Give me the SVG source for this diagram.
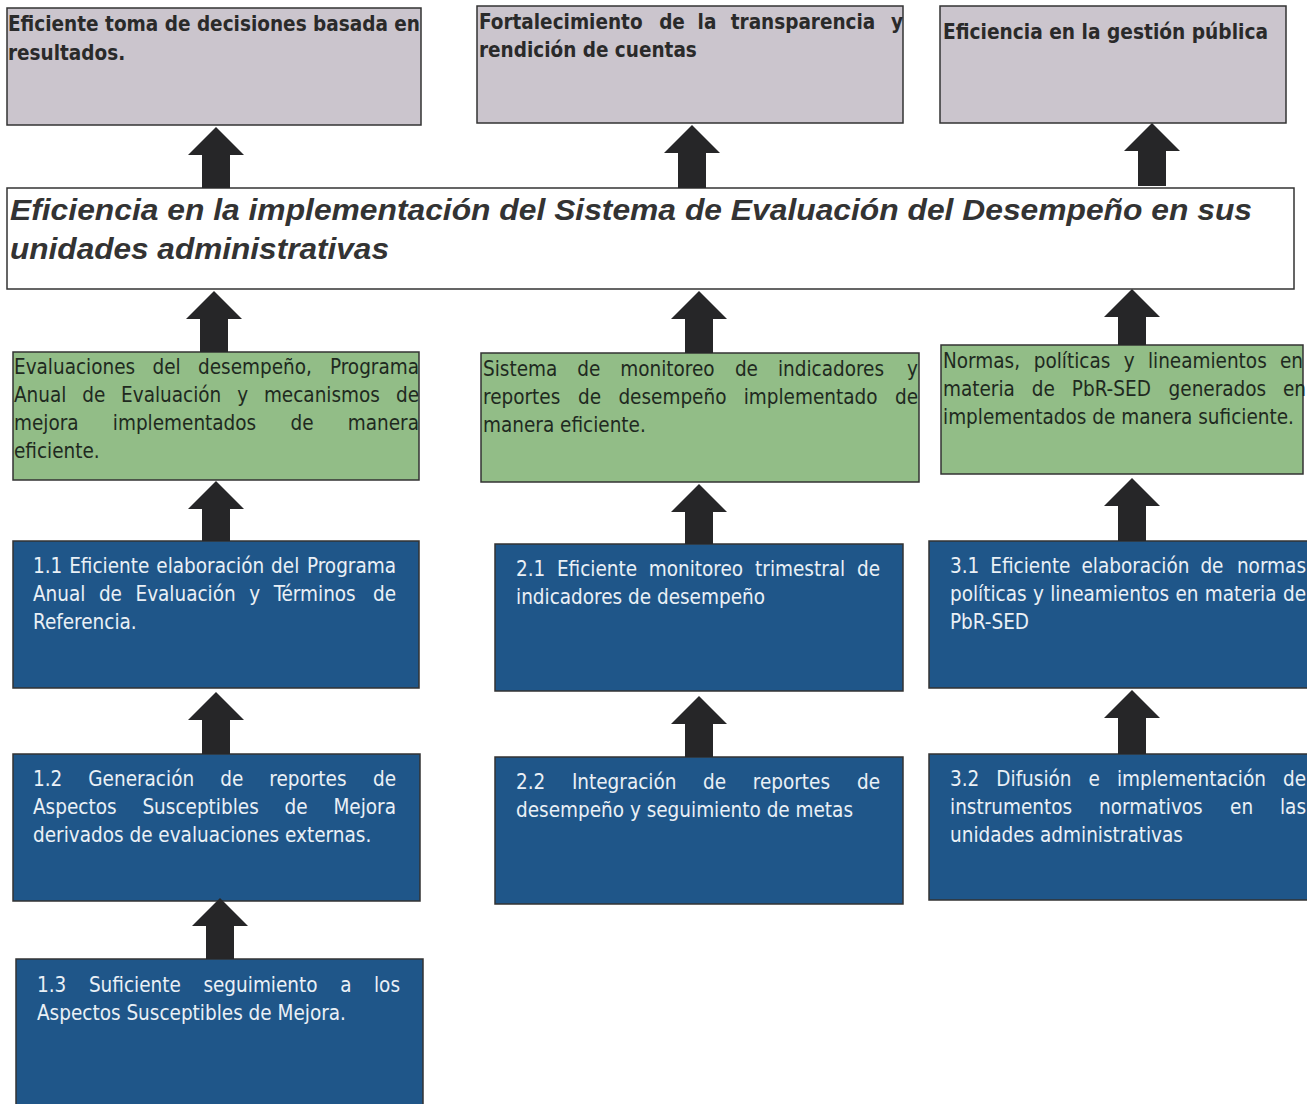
<svg xmlns="http://www.w3.org/2000/svg" width="1307" height="1104" viewBox="0 0 1307 1104">
<style>
.bg{fill:#ffffff}
.top{fill:#cbc5cd;stroke:#333;stroke-width:1.5}
.main{fill:#ffffff;stroke:#333;stroke-width:1.5}
.grn{fill:#92bd87;stroke:#333;stroke-width:1.5}
.blu{fill:#1f5689;stroke:#333;stroke-width:1.5}
.arr{fill:#262628}
text{font-family:"DejaVu Sans Condensed","DejaVu Sans",sans-serif;font-size:20.5px}
.hd{font-weight:bold;fill:#2a2a2a}
.k{fill:#1f2a1f}
.w{fill:#eaf0f6}
.ttl{font-family:"Liberation Sans",Arial,sans-serif;font-size:30px;font-weight:bold;font-style:italic;fill:#333}
.m{text-anchor:middle}
.e{text-anchor:end}
</style>
<rect class="bg" x="0" y="0" width="1307" height="1104"/>

<g id="n-top1">
<rect class="top" x="7" y="8" width="414" height="117"/>
<text class="hd" x="8" y="31" textLength="412" lengthAdjust="spacingAndGlyphs">Eficiente toma de decisiones basada en</text>
<text class="hd" x="8" y="60">resultados.</text>
</g>

<g id="n-top2">
<rect class="top" x="477" y="6" width="426" height="117"/>
<text class="hd" x="479" y="29">Fortalecimiento</text>
<text class="hd m" x="672" y="29">de</text>
<text class="hd m" x="707" y="29">la</text>
<text class="hd m" x="803" y="29">transparencia</text>
<text class="hd e" x="903" y="29">y</text>
<text class="hd" x="479" y="57">rendición de cuentas</text>
</g>

<g id="n-top3">
<rect class="top" x="940" y="6" width="346" height="117"/>
<text class="hd" x="943" y="39" textLength="325" lengthAdjust="spacingAndGlyphs">Eficiencia en la gestión pública</text>
</g>

<g id="n-main">
<rect class="main" x="7" y="188" width="1287" height="101"/>
<text class="ttl" x="10" y="220" textLength="1242" lengthAdjust="spacingAndGlyphs">Eficiencia en la implementación del Sistema de Evaluación del Desempeño en sus</text>
<text class="ttl" x="10" y="259" textLength="379" lengthAdjust="spacingAndGlyphs">unidades administrativas</text>
</g>

<g id="n-g1">
<rect class="grn" x="13" y="352" width="406" height="128"/>
<text class="k" x="14" y="374">Evaluaciones</text>
<text class="k" x="152.5" y="374">del</text>
<text class="k" x="198" y="374">desempeño,</text>
<text class="k e" x="419" y="374">Programa</text>
<text class="k" x="14" y="402">Anual</text>
<text class="k" x="82.2" y="402">de</text>
<text class="k" x="121.1" y="402">Evaluación</text>
<text class="k" x="237.2" y="402">y</text>
<text class="k" x="263.9" y="402">mecanismos</text>
<text class="k e" x="419" y="402">de</text>
<text class="k" x="14" y="430">mejora</text>
<text class="k" x="112.8" y="430">implementados</text>
<text class="k" x="290.5" y="430">de</text>
<text class="k e" x="419" y="430">manera</text>
<text class="k" x="14" y="458">eficiente.</text>
</g>

<g id="n-g2">
<rect class="grn" x="481" y="353" width="438" height="129"/>
<text class="k" x="483" y="376">Sistema</text>
<text class="k" x="577.2" y="376">de</text>
<text class="k" x="620.2" y="376">monitoreo</text>
<text class="k" x="734.9" y="376">de</text>
<text class="k" x="777.9" y="376">indicadores</text>
<text class="k e" x="918" y="376">y</text>
<text class="k" x="483" y="404">reportes</text>
<text class="k" x="578" y="404">de</text>
<text class="k" x="618.4" y="404">desempeño</text>
<text class="k" x="743.7" y="404">implementado</text>
<text class="k e" x="918" y="404">de</text>
<text class="k" x="483" y="432">manera eficiente.</text>
</g>

<g id="n-g3">
<rect class="grn" x="941" y="345" width="362" height="129"/>
<text class="k" x="943" y="368">Normas,</text>
<text class="k" x="1033.7" y="368">políticas</text>
<text class="k" x="1123.7" y="368">y</text>
<text class="k" x="1147.9" y="368">lineamientos</text>
<text class="k e" x="1303" y="368">en</text>
<text class="k" x="943" y="396">materia</text>
<text class="k" x="1031.8" y="396">de</text>
<text class="k" x="1071.8" y="396">PbR-SED</text>
<text class="k" x="1168.6" y="396">generados</text>
<text class="k e" x="1306" y="396">en</text>
<text class="k" x="943" y="424">implementados de manera suficiente.</text>
</g>

<g id="n-b11">
<rect class="blu" x="13" y="541" width="406" height="147"/>
<text class="w" x="33" y="573">1.1</text>
<text class="w" x="69.2" y="573">Eficiente</text>
<text class="w" x="156.3" y="573">elaboración</text>
<text class="w" x="271.1" y="573">del</text>
<text class="w e" x="396" y="573">Programa</text>
<text class="w" x="33" y="601">Anual</text>
<text class="w" x="98.9" y="601">de</text>
<text class="w" x="135.5" y="601">Evaluación</text>
<text class="w" x="249.3" y="601">y</text>
<text class="w" x="273.7" y="601">Términos</text>
<text class="w e" x="396" y="601">de</text>
<text class="w" x="33" y="629">Referencia.</text>
</g>

<g id="n-b21">
<rect class="blu" x="495" y="544" width="408" height="147"/>
<text class="w" x="516" y="576">2.1</text>
<text class="w" x="556.9" y="576">Eficiente</text>
<text class="w" x="648.7" y="576">monitoreo</text>
<text class="w" x="755.1" y="576">trimestral</text>
<text class="w e" x="880" y="576">de</text>
<text class="w" x="516" y="604">indicadores de desempeño</text>
</g>

<g id="n-b31">
<rect class="blu" x="929" y="541" width="382" height="147"/>
<text class="w" x="950" y="573">3.1</text>
<text class="w" x="990.3" y="573">Eficiente</text>
<text class="w" x="1081.5" y="573">elaboración</text>
<text class="w" x="1200.4" y="573">de</text>
<text class="w e" x="1306" y="573">normas</text>
<text class="w" x="950" y="601">políticas</text>
<text class="w" x="1033" y="601">y</text>
<text class="w" x="1050.2" y="601">lineamientos</text>
<text class="w" x="1175.4" y="601">en</text>
<text class="w" x="1204.7" y="601">materia</text>
<text class="w e" x="1306" y="601">de</text>
<text class="w" x="950" y="629">PbR-SED</text>
</g>

<g id="n-b12">
<rect class="blu" x="13" y="754" width="407" height="147"/>
<text class="w" x="33" y="786">1.2</text>
<text class="w" x="88.3" y="786">Generación</text>
<text class="w" x="220.2" y="786">de</text>
<text class="w" x="269.3" y="786">reportes</text>
<text class="w e" x="396" y="786">de</text>
<text class="w" x="33" y="814">Aspectos</text>
<text class="w" x="142.4" y="814">Susceptibles</text>
<text class="w" x="284.6" y="814">de</text>
<text class="w e" x="396" y="814">Mejora</text>
<text class="w" x="33" y="842">derivados de evaluaciones externas.</text>
</g>

<g id="n-b22">
<rect class="blu" x="495" y="757" width="408" height="147"/>
<text class="w" x="516" y="789">2.2</text>
<text class="w" x="571.9" y="789">Integración</text>
<text class="w" x="703.1" y="789">de</text>
<text class="w" x="752.8" y="789">reportes</text>
<text class="w e" x="880" y="789">de</text>
<text class="w" x="516" y="817">desempeño y seguimiento de metas</text>
</g>

<g id="n-b32">
<rect class="blu" x="929" y="754" width="382" height="146"/>
<text class="w" x="950" y="786">3.2</text>
<text class="w" x="996.3" y="786">Difusión</text>
<text class="w" x="1088.5" y="786">e</text>
<text class="w" x="1116.9" y="786">implementación</text>
<text class="w e" x="1306" y="786">de</text>
<text class="w" x="950" y="814">instrumentos</text>
<text class="w" x="1099.1" y="814">normativos</text>
<text class="w" x="1230.1" y="814">en</text>
<text class="w e" x="1306" y="814">las</text>
<text class="w" x="950" y="842">unidades administrativas</text>
</g>

<g id="n-b13">
<rect class="blu" x="16" y="959" width="407" height="150"/>
<text class="w" x="37" y="992">1.3</text>
<text class="w" x="88.9" y="992">Suficiente</text>
<text class="w" x="203.4" y="992">seguimiento</text>
<text class="w" x="340.2" y="992">a</text>
<text class="w e" x="400" y="992">los</text>
<text class="w" x="37" y="1020">Aspectos Susceptibles de Mejora.</text>
</g>

<g id="connectors">
<path class="arr" d="M216 127 L244 155 L230 155 L230 188 L202 188 L202 155 L188 155 Z"/>
<path class="arr" d="M692 125 L720 153 L706 153 L706 188 L678 188 L678 153 L664 153 Z"/>
<path class="arr" d="M1152 123 L1180 151 L1166 151 L1166 186 L1138 186 L1138 151 L1124 151 Z"/>
<path class="arr" d="M214 291 L242 319 L228 319 L228 352 L200 352 L200 319 L186 319 Z"/>
<path class="arr" d="M699 291 L727 319 L713 319 L713 353 L685 353 L685 319 L671 319 Z"/>
<path class="arr" d="M1132 289 L1160 317 L1146 317 L1146 345 L1118 345 L1118 317 L1104 317 Z"/>
<path class="arr" d="M216 481 L244 509 L230 509 L230 541 L202 541 L202 509 L188 509 Z"/>
<path class="arr" d="M699 484 L727 512 L713 512 L713 544 L685 544 L685 512 L671 512 Z"/>
<path class="arr" d="M1132 478 L1160 506 L1146 506 L1146 541 L1118 541 L1118 506 L1104 506 Z"/>
<path class="arr" d="M216 692 L244 720 L230 720 L230 754 L202 754 L202 720 L188 720 Z"/>
<path class="arr" d="M699 696 L727 724 L713 724 L713 757 L685 757 L685 724 L671 724 Z"/>
<path class="arr" d="M1132 690 L1160 718 L1146 718 L1146 754 L1118 754 L1118 718 L1104 718 Z"/>
<path class="arr" d="M220 898 L248 926 L234 926 L234 959 L206 959 L206 926 L192 926 Z"/>
</g>
</svg>
